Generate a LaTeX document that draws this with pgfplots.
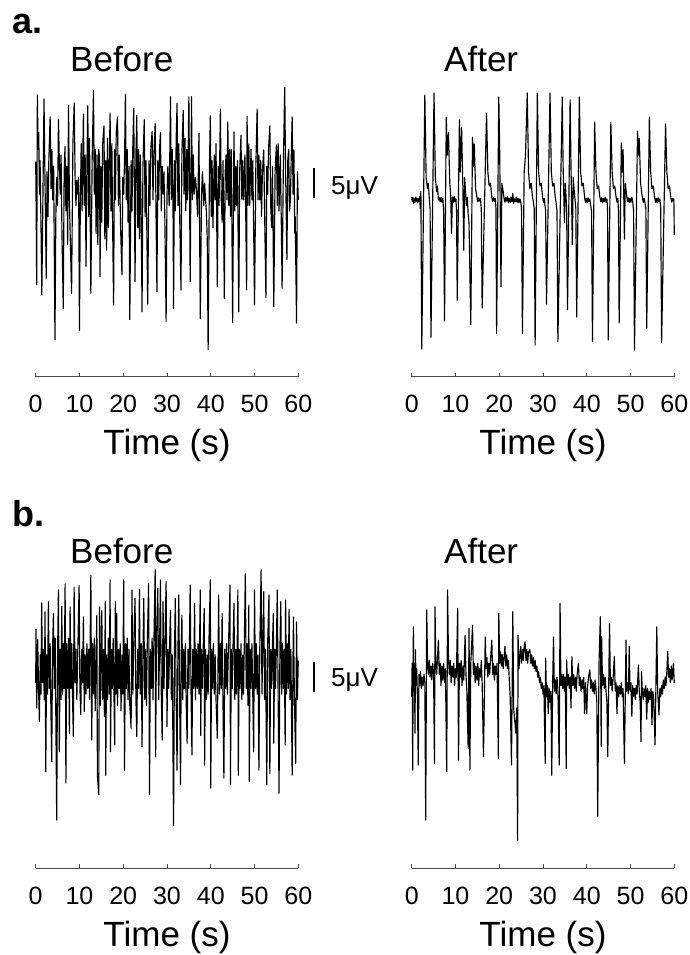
\documentclass[border=0pt]{standalone}
\usepackage{fontspec}
\setmainfont{Liberation Sans}
\usepackage{pgfplots}
\pgfplotsset{compat=1.18}

% one trace panel: only the time axis is drawn, y is hidden
\pgfplotsset{
  eeg/.style={
    scale only axis, width=262.6pt, xmin=0, xmax=60,
    axis x line=bottom, axis y line=none,
    x axis line style={-, line width=0.9pt, color=black!70},
    xtick={0,10,...,60}, tick align=inside, major tick length=4pt,
    tick style={line width=0.8pt, color=black!70},
    /pgf/number format/assume math mode=true,
    xticklabel style={anchor=base, yshift=-36.3pt, font=\fontsize{25}{25}\selectfont},
    xlabel={Time (s)},
    xlabel style={at={(axis description cs:0.5,0)}, anchor=base, yshift=-78.3pt,
      font=\fontsize{35}{35}\selectfont},
    clip=false,
  },
  trace/.style={black, line width=1.15pt, line join=round, mark=none},
}
\tikzset{lbl/.style={inner sep=0pt, anchor=base west}}

\begin{document}
\begin{tikzpicture}[x=1pt,y=1pt]

% ---------- a. Before ----------
\begin{axis}[eeg, at={(35.7pt,578.3pt)}, anchor=south west,
  height=296.7pt, ymin=-34.59, ymax=18.39]
\addplot[trace] coordinates {
(0,3.8) (0.12,-6) (0.23,-18.2) (0.38,15.7) (0.55,6) (0.7,9) (0.85,-2) (1.0,4) (1.2,-7) (1.4,-20.0)
(1.9,15.0) (2.05,5) (2.2,-4) (2.4,-17.0) (2.6,2) (2.8,-6) (3.0,4) (3.3,11.8) (3.5,-1) (3.7,6)
(3.9,-3) (4.1,3) (4.4,-28.0) (4.6,-6) (4.8,1) (5.0,-4) (5.2,11.4) (5.4,4) (5.6,-2) (5.8,5)
(6.0,-9) (6.3,-22.4) (6.5,2) (6.7,6.5) (6.9,-5) (7.1,3) (7.3,-11) (7.5,13.9) (7.7,-3) (7.9,-10)
(8.2,-19.7) (8.5,7) (8.8,14.3) (9.0,1) (9.2,-4) (9.4,0.5) (9.6,-2) (9.8,1) (10.0,-26.3) (10.2,-3)
(10.4,7) (10.6,-5) (10.9,12.3) (11.1,-4) (11.3,5) (11.5,-14.9) (11.7,3) (11.9,13.8) (12.1,-6) (12.3,8)
(12.6,-19.7) (12.9,4) (13.2,16.5) (13.4,-2) (13.6,6) (13.8,-9) (14.0,5) (14.2,-11) (14.4,6) (14.6,4.4)
(14.7,-16.7) (14.9,3) (15.1,-7) (15.3,7) (15.6,10.2) (15.8,-10) (16.0,4) (16.2,-12) (16.4,8) (16.6,-8)
(16.8,3) (17.0,12.5) (17.2,-5) (17.4,7) (17.6,-9) (17.8,-21.8) (18.0,6) (18.2,-3) (18.4,9) (18.7,11.8)
(18.9,-4) (19.1,5) (19.4,-8) (19.7,-16.4) (19.9,1) (20.1,-2) (20.3,4) (20.5,15.8) (20.7,-3) (20.9,6)
(21.1,-7) (21.3,3) (21.5,-24.4) (21.8,4) (22.0,-5) (22.2,7) (22.4,13.3) (22.7,-17.6) (22.9,5) (23.1,12.1)
(23.3,-8) (23.5,6) (23.7,-10) (23.9,5) (24.1,-6) (24.3,-23.0) (24.5,3) (24.8,11.3) (25.0,-6) (25.2,4)
(25.4,-9) (25.6,-21.6) (25.9,4) (26.1,-4) (26.3,6) (26.6,9.2) (26.8,-3) (27.0,5) (27.3,10.6) (27.5,-6)
(27.7,-19.4) (27.9,4) (28.1,-3) (28.3,6) (28.5,9.0) (28.7,-5) (28.9,3) (29.1,-2) (29.3,2) (29.5,-6)
(29.8,-24.7) (30.0,-2) (30.2,3) (30.5,-4) (30.8,15.4) (31.0,-3) (31.2,6) (31.4,-7) (31.5,-22.4) (31.7,4)
(31.9,-5) (32.1,8) (32.3,14.2) (32.5,-4) (32.7,7) (32.9,-6) (33.2,-19.1) (33.4,5) (33.7,13.0) (33.9,-2)
(34.1,8) (34.3,-5) (34.5,6) (34.7,-3) (35.0,15.4) (35.3,-17.6) (35.6,15.4) (35.8,-3) (36.0,5) (36.2,-2)
(36.5,1) (36.7,-1) (37.0,-6) (37.3,8.9) (37.6,-24.2) (37.9,-2) (38.1,2) (38.4,-4) (38.6,0) (38.8,-3)
(39.0,-5) (39.2,-10) (39.4,-29.8) (39.7,3) (39.9,12.0) (40.1,-6) (40.3,4) (40.5,-8) (40.8,5) (41.0,-3)
(41.2,7) (41.5,-18.5) (41.7,3) (41.9,-4) (42.2,13.2) (42.4,-3) (42.6,-7) (42.8,4) (43.1,-20.6) (43.3,2)
(43.5,5) (43.7,-3) (43.9,10.9) (44.1,-4) (44.3,6) (44.5,-6) (44.7,6) (45.0,-24.9) (45.3,9.1) (45.5,-5)
(45.7,3) (45.9,-4) (46.1,4) (46.4,-23.0) (46.6,2) (46.9,8.5) (47.1,-3) (47.3,4) (47.5,-3) (47.8,5)
(48.0,-6) (48.2,-19.1) (48.3,11.9) (48.5,-4) (48.7,7) (48.9,-4) (49.2,6) (49.4,-3) (49.6,4) (49.8,-8)
(50.0,-21.8) (50.3,3) (50.6,13.2) (50.8,-3) (51.0,5) (51.2,-3) (51.4,4) (51.6,-6) (51.8,2) (52.1,5.9)
(52.3,-5) (52.6,-20.5) (52.8,3) (53.0,-2) (53.2,6) (53.5,10.2) (53.7,-4) (53.9,-8) (54.1,3) (54.4,-22.1)
(54.7,2) (55.0,6.8) (55.2,-4) (55.4,7) (55.6,-5) (55.9,5) (56.1,-6) (56.3,-18.8) (56.6,4) (56.9,17.1)
(57.1,2) (57.4,-13.7) (57.6,4) (57.8,6) (58.0,-5) (58.2,-3) (58.4,5) (58.6,11.8) (58.8,-2) (59.0,5.9)
(59.2,-9) (59.3,-6) (59.6,-25.0) (59.8,2) (60.0,-3)
};
\end{axis}

% ---------- a. After ----------
\begin{axis}[eeg, at={(411.7pt,578.3pt)}, anchor=south west,
  height=296.7pt, ymin=-31.55, ymax=21.43]
\addplot[trace] coordinates {
(0,0.5) (0.15,-0.3) (0.3,0.4) (0.45,-0.6) (0.6,0.2) (0.75,-0.4) (0.9,0.5) (1.05,-0.2) (1.2,0.3) (1.35,-0.5)
(1.5,0.2) (1.65,-0.3) (1.8,0.6) (1.95,-1.5) (2.1,1.5) (2.3,-26.6) (3.0,18.75) (3.3,4) (3.6,2) (3.8,3)
(4.0,0.5) (4.2,-1.5) (4.4,-24.5) (5.1,19.1) (5.4,4) (5.7,1.5) (5.9,2.5) (6.1,0) (6.3,0.4) (6.5,-0.3)
(6.7,0.5) (6.9,-0.4) (7.1,0.3) (7.3,-2) (7.5,-21.6) (7.9,14.8) (8.1,8) (8.4,12) (8.7,3) (8.9,1)
(9.1,-6) (9.3,0.5) (9.5,-0.4) (9.7,0.6) (9.9,-0.3) (10.1,0.2) (10.25,-2) (10.4,-17.9) (10.9,14.3) (11.1,5)
(11.4,13) (11.7,2) (11.9,-9) (12.1,4) (12.3,1.5) (12.5,-1) (12.7,0.5) (12.9,-2.5) (13.1,-4) (13.5,-22.3)
(13.9,11.2) (14.1,6) (14.3,10) (14.6,2) (14.9,0.5) (15.1,-0.3) (15.3,0.4) (15.5,-0.2) (15.7,0.3) (15.9,-1.5)
(16.1,-19.3) (17.1,15.5) (17.4,5) (17.7,2.5) (18.0,3) (18.3,0.5) (18.5,-0.3) (18.7,0.4) (18.9,-0.2) (19.1,0.3)
(19.25,-1.5) (19.4,-23.8) (19.9,18.4) (20.1,9) (20.4,-15.5) (20.6,3) (20.9,1.5) (21.1,0.3) (21.3,-0.4) (21.5,0.5)
(21.7,-0.2) (21.9,0.6) (22.1,-0.5) (22.3,0.3) (22.5,-0.4) (22.7,0.5) (22.9,-0.3) (23.1,1.2) (23.3,-0.6) (23.5,0.2)
(23.7,-0.3) (23.9,0.5) (24.1,-0.4) (24.3,0.3) (24.5,-0.5) (24.7,0.2) (24.9,-0.3) (25.1,-1.5) (25.3,-23.8) (25.7,5)
(26.0,8) (26.4,19.1) (26.7,5) (27.0,2) (27.3,3) (27.6,0.5) (27.8,-0.3) (28.0,-1.5) (28.2,-25.9) (28.7,19.1)
(29.0,5) (29.3,2.5) (29.6,3) (29.9,0.5) (30.1,-0.4) (30.3,0.3) (30.6,-2) (30.8,-18.6) (31.6,19.1) (31.9,5)
(32.2,2.5) (32.5,3) (32.8,0.5) (33.0,-0.5) (33.2,-2) (33.4,-25.3) (34.4,18.4) (34.6,6) (34.9,-4) (35.1,3)
(35.4,-1.5) (35.6,-19.6) (36.2,17.9) (36.4,6) (36.7,-8) (36.9,4) (37.2,1) (37.5,-1.5) (37.7,-20.9) (38.3,18.4)
(38.6,5) (38.9,2.5) (39.2,3) (39.5,0.5) (39.7,-0.4) (39.9,0.3) (40.1,-0.5) (40.3,0.4) (40.5,-0.3) (40.7,0.2)
(40.9,-1) (41.1,-2) (41.3,-25.3) (41.8,13.9) (42.1,5) (42.4,2) (42.7,2.5) (43.0,0.5) (43.2,-0.3) (43.4,0.4)
(43.6,-0.5) (43.8,0.3) (44.0,-0.3) (44.2,0.5) (44.4,-0.4) (44.6,0.2) (44.75,-1.5) (44.9,-25.0) (45.5,13.8) (45.8,5)
(46.1,2) (46.4,2.5) (46.7,0.5) (46.9,-0.4) (47.1,0.3) (47.25,-2) (47.4,-22.0) (47.9,10.2) (48.1,5) (48.3,9)
(48.6,-7) (48.8,3) (49.1,1) (49.3,-0.3) (49.5,0.4) (49.7,-0.5) (49.9,0.3) (50.1,-0.4) (50.3,0.5) (50.5,-0.3)
(50.7,-2) (50.9,-26.8) (51.6,12.3) (51.8,8) (52.0,11) (52.3,3) (52.6,1) (52.9,-0.4) (53.1,0.3) (53.3,-0.5)
(53.5,-1.5) (53.7,-22.9) (54.3,14.8) (54.6,5) (54.9,2) (55.2,2.5) (55.5,0.5) (55.7,-0.4) (55.9,0.3) (56.1,-0.5)
(56.3,0.4) (56.5,-0.3) (56.7,0.2) (56.9,-1.5) (57.1,-25.5) (58.0,13.6) (58.3,5) (58.6,2) (58.9,2.5) (59.2,0.5)
(59.4,-0.4) (59.6,0.3) (59.8,-0.2) (59.9,0.2) (60.0,-6.25)
};
\end{axis}

% ---------- b. Before ----------
\begin{axis}[eeg, at={(35.7pt,86.7pt)}, anchor=south west,
  height=308.3pt, ymin=-35.11, ymax=19.95]
\addplot[trace] coordinates {
(0.0,-2) (0.08,7.6) (0.23,-6.5) (0.46,5.8) (0.65,-3) (0.84,-8.9) (1.05,3) (1.2,-4) (1.37,12.3) (1.55,-2)
(1.75,4) (1.95,-5) (2.14,10.7) (2.3,-17.9) (2.5,3) (2.7,-4) (2.9,12.5) (3.1,-3) (3.3,5) (3.46,-6)
(3.66,-16.1) (3.85,4) (4.05,10.4) (4.25,-3) (4.45,6) (4.6,-8) (4.8,-26.5) (5.0,3) (5.19,14.6) (5.4,-14.3)
(5.6,4) (5.8,-5) (5.95,11.7) (6.15,-4) (6.35,5) (6.5,-3) (6.72,15.7) (6.9,-19.9) (7.1,5) (7.3,-3)
(7.5,6) (7.7,-11.0) (7.86,11.6) (8.05,-3) (8.25,5) (8.45,-6) (8.6,-11.6) (8.78,15.1) (9.0,-2) (9.2,4)
(9.4,-5) (9.6,3) (9.92,15.4) (10.1,-3) (10.3,-7.7) (10.5,4) (10.7,-2) (10.9,9.8) (11.1,-7.1) (11.3,3)
(11.5,-4) (11.7,5) (11.9,-3) (12.1,4) (12.3,-5) (12.6,17.2) (12.8,-12.2) (13.0,5) (13.2,-4) (13.4,6)
(13.6,-7) (13.97,10.1) (14.1,-18.5) (14.4,-22.0) (14.6,11.6) (14.8,-6) (15.1,10.9) (15.3,-5) (15.5,4) (15.7,-8)
(15.9,12.5) (16.0,-18.5) (16.2,3) (16.4,-5) (16.6,6) (16.8,-4) (17.0,16.4) (17.1,-14.3) (17.3,4) (17.5,-3)
(17.7,6) (17.9,-5) (18.05,-13.1) (18.2,12.5) (18.35,-4) (18.5,10.4) (18.7,-6) (18.9,4) (19.1,-3) (19.3,5)
(19.5,-7) (19.7,3) (19.9,-4) (20.1,16.4) (20.3,-17.6) (20.5,5) (20.7,-3) (20.9,6) (21.1,-5) (21.3,4)
(21.5,-6) (21.8,-10.1) (22.0,14.6) (22.2,-4) (22.4,5) (22.7,13.1) (22.9,-5) (23.1,-11.6) (23.3,4) (23.5,-3)
(23.7,14.7) (23.9,-4) (24.1,5) (24.3,-13.4) (24.5,3) (24.7,13.1) (24.9,-5) (25.1,4) (25.3,-6) (25.5,5)
(25.8,15.8) (26.0,-22.0) (26.2,4) (26.4,-3) (26.6,6) (26.8,-5) (27.0,5) (27.3,18.2) (27.4,-15.2) (27.6,6)
(27.9,14.9) (28.1,-5) (28.3,4) (28.5,16.4) (28.7,-4) (28.9,-12.2) (29.1,12.5) (29.3,-3) (29.5,4) (29.8,16.1)
(30.0,-9.8) (30.2,4) (30.4,-3) (30.6,5) (30.8,11.0) (31.0,-5) (31.2,3) (31.5,-27.5) (31.7,3) (31.9,13.1)
(32.1,-5) (32.3,-17.6) (32.5,4) (32.7,13.7) (32.9,-6) (33.1,-20.2) (33.25,3) (33.4,10.1) (33.6,-5) (33.8,4)
(34.0,-3) (34.2,5) (34.4,-6) (34.6,-12.8) (34.8,4) (35.0,-3) (35.3,15.5) (35.5,-4) (35.7,-14.9) (35.9,4)
(36.1,-3) (36.3,12.2) (36.5,-5) (36.7,4) (36.9,-3) (37.1,5) (37.3,-4) (37.6,14.6) (37.7,-11.4) (37.9,4)
(38.1,-3) (38.3,5) (38.5,11.3) (38.6,-16.7) (38.8,4) (39.0,-5) (39.2,3) (39.4,-4) (39.6,6) (39.9,16.4)
(40.0,-20.8) (40.2,4) (40.4,-3) (40.6,5) (40.8,-4) (41.0,3) (41.2,-5) (41.5,-11.9) (41.8,13.7) (42.0,-4)
(42.2,5) (42.4,-3) (42.6,10.4) (42.8,-6) (43.0,-19.0) (43.2,4) (43.4,-3) (43.6,5) (43.8,-4) (44.0,3)
(44.4,15.5) (44.5,-20.2) (44.7,4) (44.9,-3) (45.1,5) (45.3,12.2) (45.5,-5) (45.7,4) (45.9,-4) (46.2,14.6)
(46.3,-18.5) (46.5,4) (46.7,-3) (46.9,5) (47.1,-5) (47.3,3) (47.5,-4) (47.9,17.5) (48.1,-3) (48.3,5)
(48.5,-6) (48.7,11.9) (48.8,-19.6) (49.0,4) (49.2,-3) (49.4,5) (49.6,-4) (49.8,-14.3) (50.0,14.6) (50.2,-3)
(50.4,5) (50.6,-4) (50.8,3) (51.0,-17.6) (51.2,4) (51.5,18.2) (51.7,-4) (51.9,5) (52.1,14.3) (52.3,-5)
(52.5,4) (52.8,-20.2) (53.0,5) (53.3,13.7) (53.5,-18.2) (53.7,4) (53.9,-3) (54.1,5) (54.3,10.4) (54.4,-12.8)
(54.6,4) (54.8,-3) (55.0,5) (55.2,14.6) (55.4,-5) (55.6,-21.7) (55.8,4) (56.0,12.5) (56.2,-4) (56.4,5)
(56.6,-3) (56.8,4) (57.0,-13.1) (57.1,12.8) (57.3,-4) (57.5,5) (57.7,-3) (57.9,11.2) (58.1,-5) (58.3,4)
(58.6,-18.5) (58.8,3) (58.9,9.8) (59.1,-4) (59.4,-16.4) (59.6,8.9) (59.8,-5) (60.0,2)
};
\end{axis}

% ---------- b. After ----------
\begin{axis}[eeg, at={(411.7pt,86.7pt)}, anchor=south west,
  height=308.3pt, ymin=-33.63, ymax=21.43]
\addplot[trace] coordinates {
(0.0,-3) (0.1,3) (0.23,-16.1) (0.38,9.5) (0.5,-2) (0.6,3) (0.76,-9.5) (0.85,5.4) (1.0,-1) (1.15,2)
(1.3,-3) (1.5,-15.2) (1.65,1) (1.8,-1) (2.0,1.5) (2.2,-1.5) (2.4,0.5) (2.6,-1) (2.8,1) (3.0,-0.5)
(3.2,-25.0) (3.43,12.5) (3.6,4) (3.8,1) (4.0,3.5) (4.2,0.5) (4.4,2.5) (4.6,0) (4.8,3) (5.0,1)
(5.2,-14.9) (5.33,13.1) (5.5,3) (5.7,1) (5.9,4) (6.1,7.1) (6.3,1) (6.5,3) (6.7,-1) (6.9,2.5)
(7.1,0) (7.3,3) (7.5,-0.5) (7.7,2) (8.0,-16.4) (8.2,16.1) (8.4,4) (8.6,1) (8.8,3.5) (9.0,-0.5)
(9.2,2.5) (9.4,0.5) (9.6,3) (9.8,-1) (10.0,2) (10.2,0.5) (10.5,12.8) (10.7,-14.3) (10.9,3) (11.1,0.5)
(11.3,3.5) (11.5,-1) (11.7,2.5) (11.9,0) (12.2,8.0) (12.4,1) (12.6,-2) (12.9,-12.2) (13.1,9.2) (13.3,-16.1)
(13.5,3) (13.9,9.8) (14.1,1) (14.3,3) (14.5,-0.5) (14.7,2.5) (14.9,0) (15.1,3) (15.3,-1) (15.5,2)
(15.7,0.5) (15.9,3.5) (16.1,-0.5) (16.4,-13.7) (16.8,7.7) (17.0,2) (17.2,4) (17.4,0.5) (17.6,3) (17.8,1)
(18.0,3.5) (18.3,7.1) (18.5,1) (18.7,3) (18.9,0) (19.1,2.5) (19.3,1) (19.5,3) (19.8,-14.0) (19.9,11.9)
(20.1,3) (20.3,5) (20.5,2.5) (20.7,4.5) (20.9,2) (21.1,4) (21.3,6.0) (21.5,2.5) (21.7,4.5) (21.9,2)
(22.1,3.5) (22.3,0) (22.5,-3) (22.8,-15.2) (23.1,12.2) (23.3,-5) (23.5,-7) (23.8,-9.5) (24.0,-5) (24.2,-28.7)
(24.3,8.0) (24.5,2) (24.7,4) (24.9,6) (25.1,3) (25.3,5.5) (25.5,3.5) (25.7,6) (25.9,6.8) (26.1,3.5)
(26.3,5.5) (26.5,3) (26.7,5) (27.0,5.4) (27.2,3) (27.4,4.5) (27.6,2.5) (27.8,4) (28.0,2) (28.2,3.5)
(28.4,1.5) (28.6,2.5) (28.8,0.5) (29.0,1.5) (29.2,-0.5) (29.4,0.5) (29.6,-1.5) (29.8,-0.5) (30.0,-2.5) (30.2,-1)
(30.5,-14.9) (30.6,3.9) (30.8,-3) (31.0,-1) (31.2,-6) (31.4,-1.5) (31.6,-4) (31.8,-2) (32.0,-17.0) (32.2,-1)
(32.4,7.7) (32.6,-2) (32.8,0) (33.0,-2.5) (33.2,0.5) (33.4,-1.5) (33.7,-15.2) (33.9,13.7) (34.1,-1) (34.3,1)
(34.5,-1.5) (34.7,1) (34.9,-2) (35.1,0.5) (35.3,-15.8) (35.4,3.6) (35.6,-1) (35.8,1) (36.0,-1.5) (36.2,0.5)
(36.4,-5) (36.6,4.2) (36.8,-1) (37.0,1) (37.2,-1.5) (37.4,0.5) (37.6,-2) (37.8,1) (38.1,3.0) (38.3,-1)
(38.5,0.5) (38.7,-2) (38.9,0) (39.1,-1.5) (39.3,0.5) (39.5,-6) (39.7,-0.5) (40.0,-6.0) (40.2,-1) (40.4,0.5)
(40.7,1.8) (40.9,-1.5) (41.1,0) (41.3,-2) (41.5,-0.5) (41.7,-2.5) (41.9,0) (42.1,-1.5) (42.3,-4) (42.5,-24.4)
(42.8,3) (43.1,11.3) (43.3,-11.9) (43.4,7.7) (43.6,-1) (43.8,1) (44.0,-1.5) (44.2,0.5) (44.4,-2) (44.6,-4)
(44.8,-13.7) (45.2,10.1) (45.4,-1) (45.6,0.5) (45.8,-2) (46.0,0) (46.3,4.2) (46.5,-2) (46.7,-0.5) (46.9,-6)
(47.1,-1) (47.3,-3) (47.5,-1) (47.7,-2.5) (47.9,-0.5) (48.1,-3) (48.3,-1.5) (48.6,-14.9) (48.97,7.1) (49.1,-2)
(49.3,-0.5) (49.5,-2.5) (49.7,6.0) (49.9,-2) (50.1,-0.5) (50.3,-6.5) (50.5,-1) (50.7,-3) (50.9,-1.5) (51.1,-3.5)
(51.3,-1) (51.5,-2.5) (51.8,2.7) (52.0,-2) (52.2,-4) (52.4,-11.0) (52.5,1.5) (52.7,-2) (52.9,-3.5) (53.1,-1.5)
(53.3,-3) (53.5,-1) (53.7,-7) (53.9,-1.5) (54.1,-4) (54.3,-2) (54.5,-3.5) (54.7,-1.5) (54.9,-8) (55.1,-2)
(55.3,-3.5) (55.6,-11.6) (56.0,9.5) (56.2,-2) (56.5,-6.25) (56.7,-1.5) (56.9,-3) (57.1,-1) (57.3,-2.5) (57.5,0)
(57.7,-1.5) (57.9,0.5) (58.1,-1) (58.3,1.5) (58.5,5.1) (58.7,0.5) (58.9,2) (59.1,-0.5) (59.3,2.5) (59.5,0)
(59.8,3.0) (60.0,-0.5)
};
\end{axis}

% panel letters, titles and 5 uV scale bars
\node[lbl, font=\fontsize{36}{36}\selectfont\bfseries] at (12,921) {a.};
\node[lbl, font=\fontsize{35}{35}\selectfont] at (70,883.3) {Before};
\node[lbl, font=\fontsize{35}{35}\selectfont] at (444,883.3) {After};
\draw[line width=2pt] (314,786.7) -- (314,756.7);
\node[lbl, font=\fontsize{26}{26}\selectfont] at (331,760) {5μV};

\node[lbl, font=\fontsize{36}{36}\selectfont\bfseries] at (12,428.3) {b.};
\node[lbl, font=\fontsize{35}{35}\selectfont] at (70,391.7) {Before};
\node[lbl, font=\fontsize{35}{35}\selectfont] at (444,391.7) {After};
\draw[line width=2pt] (314.3,293.3) -- (314.3,263.3);
\node[lbl, font=\fontsize{26}{26}\selectfont] at (331,268.4) {5μV};

\pgfresetboundingbox
\path[use as bounding box] (0,0) rectangle (689,955);
\end{tikzpicture}
\end{document}
